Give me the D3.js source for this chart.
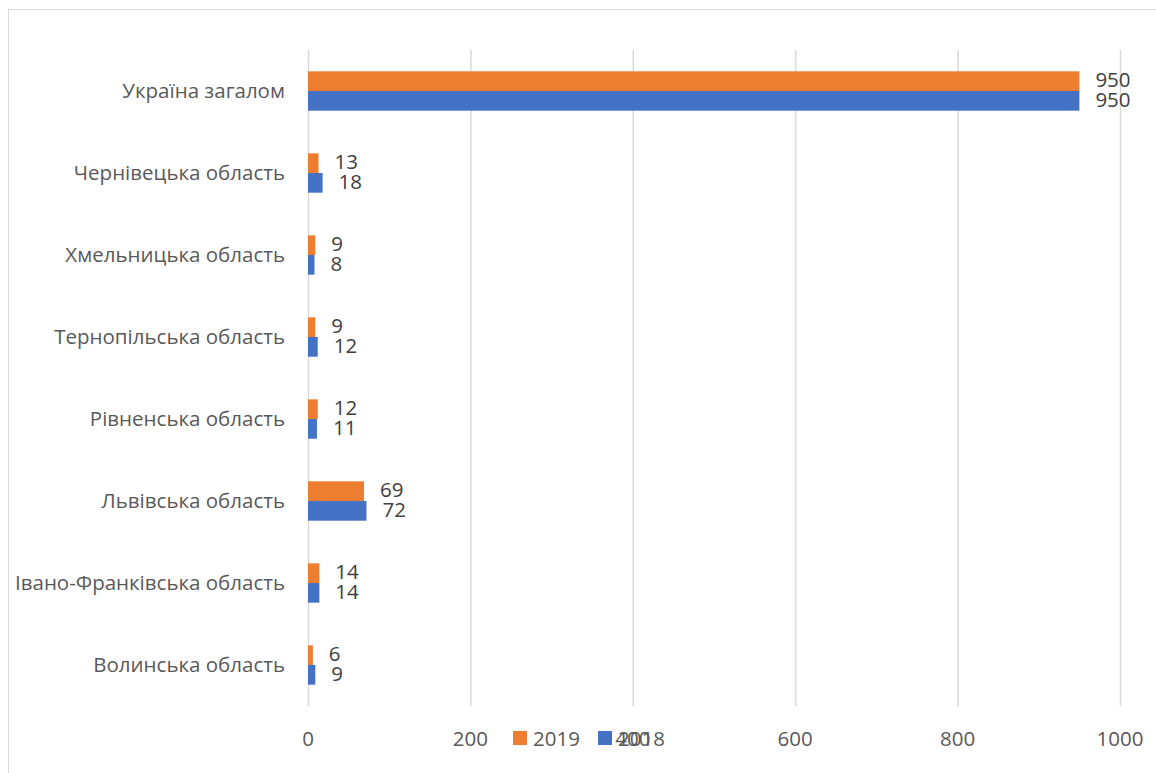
<!DOCTYPE html>
<html>
<head>
<meta charset="utf-8">
<script src="https://d3js.org/d3.v7.min.js"></script>
<style>
  body { margin: 0; background: #fff; }
  text { font-family: "Open Sans", "Noto Sans", sans-serif; }
</style>
</head>
<body>
<script>
// data, bottom to top as in the picture
var regions = ["Волинська область", "Івано-Франківська область", "Львівська область",
               "Рівненська область", "Тернопільська область", "Хмельницька область",
               "Чернівецька область", "Україна загалом"];
var values2019 = [6, 14, 69, 12, 9, 9, 13, 950];
var values2018 = [9, 14, 72, 11, 12, 8, 18, 950];
var seriesNames = ["2019", "2018"];
var seriesColors = ["#ed7d31", "#4472c4"];
var xTicks = [0, 200, 400, 600, 800, 1000];

var width = 1156, height = 773;
var fs = 20.5;
var svg = d3.select("body").append("svg")
    .attr("width", width)
    .attr("height", height);

// chart border (runs off the right/bottom edge)
svg.append("rect")
    .attr("x", 8.5).attr("y", 9.5)
    .attr("width", 1160).attr("height", 780)
    .attr("fill", "none")
    .attr("stroke", "#d9d9d9");

var x = d3.scaleLinear().domain([0, 1000]).range([308, 1120]);
var y = d3.scaleBand()
    .domain(regions.slice().reverse())
    .range([50, 706])
    .paddingInner(0.52).paddingOuter(0.26);

var rows = regions.map(function(r, i) {
  return {region: r, v: [values2019[i], values2018[i]]};
});

// grid lines
svg.append("g")
  .selectAll("line")
  .data(xTicks)
  .join("line")
    .attr("x1", d => x(d) + 0.5).attr("x2", d => x(d) + 0.5)
    .attr("y1", 50).attr("y2", 706)
    .attr("stroke", "#d9d9d9")
    .attr("stroke-width", 1.5);

// x tick labels
svg.append("g")
  .selectAll("text")
  .data(xTicks)
  .join("text")
    .attr("x", d => x(d))
    .attr("y", 746)
    .attr("text-anchor", "middle")
    .attr("fill", "#595959")
    .attr("font-size", fs)
    .text(d => d);

// category labels
svg.append("g")
  .selectAll("text")
  .data(regions)
  .join("text")
    .attr("x", 285)
    .attr("y", d => y(d) + y.bandwidth() / 2 + 7)
    .attr("text-anchor", "end")
    .attr("fill", "#595959")
    .attr("font-size", fs)
    .text(d => d);

var barH = y.bandwidth() / 2;

var groups = svg.append("g")
  .selectAll("g")
  .data(rows)
  .join("g")
    .attr("transform", d => "translate(0," + y(d.region) + ")");

groups.selectAll("rect")
  .data(d => d.v)
  .join("rect")
    .attr("x", x(0))
    .attr("y", (d, i) => i * barH)
    .attr("width", d => x(d) - x(0))
    .attr("height", barH)
    .attr("fill", (d, i) => seriesColors[i]);

groups.selectAll("text")
  .data(d => d.v)
  .join("text")
    .attr("x", d => x(d) + 16)
    .attr("y", (d, i) => i * barH + barH / 2 + 6)
    .attr("fill", "#404040")
    .attr("font-size", fs)
    .text(d => d);

// legend
var legend = svg.append("g")
  .selectAll("g")
  .data(seriesNames)
  .join("g")
    .attr("transform", (d, i) => "translate(" + (513 + i * 85) + ",731)");

legend.append("rect")
    .attr("width", 14).attr("height", 14)
    .attr("fill", (d, i) => seriesColors[i]);

legend.append("text")
    .attr("x", 20).attr("y", 15)
    .attr("fill", "#595959")
    .attr("font-size", fs)
    .text(d => d);
</script>
</body>
</html>
